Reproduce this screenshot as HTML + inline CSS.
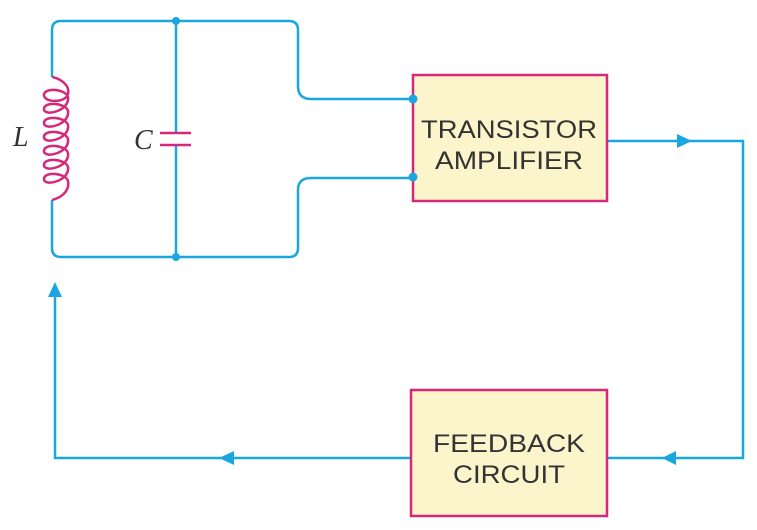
<!DOCTYPE html>
<html><head><style>body{margin:0;background:#fff}svg{display:block}</style></head><body>
<svg width="757" height="530" viewBox="0 0 757 530" xmlns="http://www.w3.org/2000/svg">
<g fill="none" stroke="#1aa7e0" stroke-width="2.5">
<path d="M52 77 V30 Q52 21 61 21 H289 Q298 21 298 30 V86 Q298 99 311 99 H413"/>
<path d="M52 200 V248 Q52 257 61 257 H289 Q298 257 298 248 V190 Q298 178 311 178 H413"/>
<path d="M176 21 V133 M176 145 V257"/>
<path d="M608 141 H743 V458 H608"/>
<path d="M411 458 H55 V292"/>
</g>
<g stroke="#d6287a" stroke-width="2.5" fill="none">
<path d="M160 133 H191 M160 145 H191"/>
<path d="M52 77 C62 79 70 86 68 94 C66 103 44 103 44 95 C44 87 66 89 68 97
C70 111 44 117 44 109 C44 101 66 103 68 111
C70 125 44 131 44 123 C44 115 66 117 68 125
C70 139 44 145 44 137 C44 129 66 131 68 139
C70 153 44 159 44 151 C44 143 66 145 68 153
C70 167 44 173 44 165 C44 157 66 159 68 167
C70 181 44 187 44 179 C44 171 66 173 68 181
C70 192 60 198 52 200"/>
</g>
<rect x="413" y="75" width="194" height="126" fill="#fcf5cc" stroke="#d6287a" stroke-width="2.5"/>
<rect x="411" y="390" width="196" height="126" fill="#fcf5cc" stroke="#d6287a" stroke-width="2.5"/>
<g fill="#1aa7e0">
<circle cx="176" cy="21" r="4"/><circle cx="176" cy="257" r="4"/>
<circle cx="413" cy="99" r="4.5"/><circle cx="413" cy="177" r="4.5"/>
<polygon points="677,134 692,141 677,148"/>
<polygon points="676,451 662,458 676,465"/>
<polygon points="234,451 219,458 234,465"/>
<polygon points="48,297 55,282 62,297"/>
</g>
<g font-family="Liberation Sans, sans-serif" font-size="25" fill="#333" text-anchor="middle">
<text x="509" y="138" textLength="176" lengthAdjust="spacingAndGlyphs">TRANSISTOR</text>
<text x="509" y="169" textLength="148" lengthAdjust="spacingAndGlyphs">AMPLIFIER</text>
<text x="509" y="452" textLength="152" lengthAdjust="spacingAndGlyphs">FEEDBACK</text>
<text x="509" y="483" textLength="112" lengthAdjust="spacingAndGlyphs">CIRCUIT</text>
</g>
<g font-family="Liberation Serif, serif" font-style="italic" font-size="28" fill="#333">
<text x="13" y="146">L</text><text x="134" y="149">C</text>
</g>
</svg>
</body></html>
